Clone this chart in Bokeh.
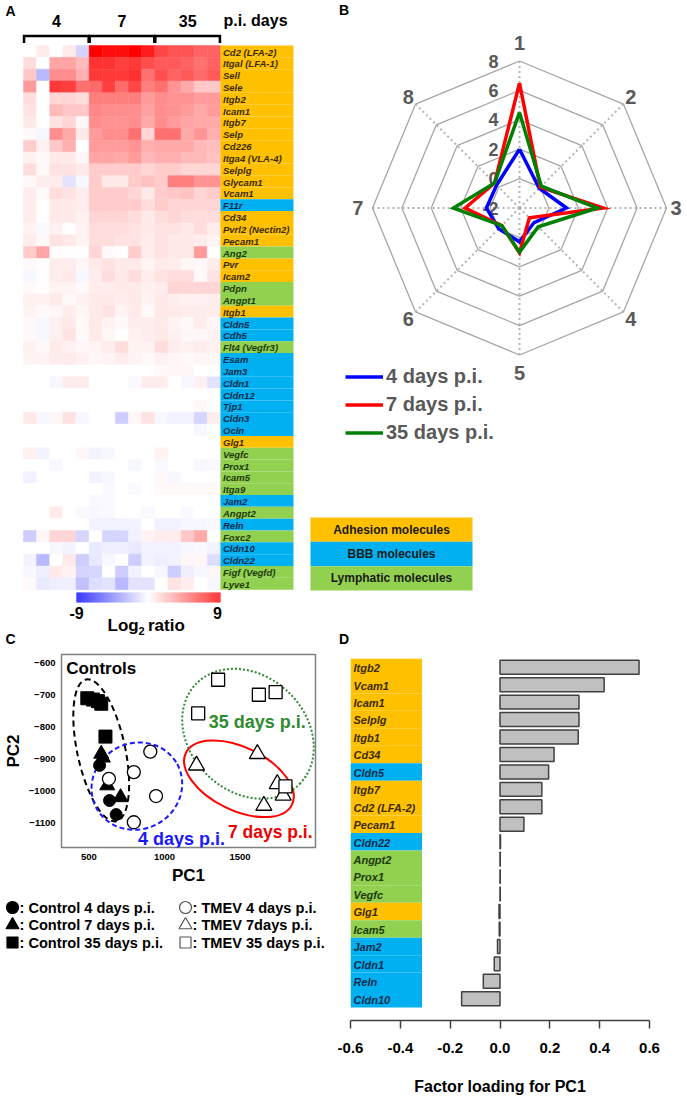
import numpy as np
from bokeh.plotting import figure
from bokeh.layouts import row, column
from bokeh.models import (Range1d, LinearColorMapper, FixedTicker, NumeralTickFormatter,
                          Legend, LegendItem, ColumnDataSource)
from bokeh.core.properties import value
from bokeh.embed import file_html
from bokeh.resources import INLINE

FONT = value("Liberation Sans")
FONT_NAME = "Liberation Sans"

# ------------------------------------------------------------------ DATA
GENES_A = ["Cd2 (LFA-2)", "Itgal (LFA-1)", "Sell", "Sele", "Itgb2", "Icam1", "Itgb7", "Selp",
           "Cd226", "Itga4 (VLA-4)", "Selplg", "Glycam1", "Vcam1", "F11r", "Cd34",
           "Pvrl2 (Nectin2)", "Pecam1", "Ang2", "Pvr", "Icam2", "Pdpn", "Angpt1", "Itgb1",
           "Cldn5", "Cdh5", "Flt4 (Vegfr3)", "Esam", "Jam3", "Cldn1", "Cldn12", "Tjp1", "Cldn3",
           "Ocln", "Glg1", "Vegfc", "Prox1", "Icam5", "Itga9", "Jam2", "Angpt2", "Reln",
           "Foxc2", "Cldn10", "Cldn22", "Figf (Vegfd)", "Lyve1"]
GROUPS_A = list("AAAAAAAAAAAAABAAALAALLABBLBBBBBBBALLLLBLBLBBLL")
DAY_GROUPS = ["4", "7", "35"]

HEAT_4D = [
    [0, 0.7, 0, 0.7, -1.5], [1.2, 0, 3.2, 3.2, 2.4], [2.0, -2.5, 4.0, 4.0, 2.8],
    [3.5, 0, 7.0, 6.8, 5.0], [1.2, 0, 1.5, 1.5, 1.2], [1.0, 0, 2.5, 2.0, 2.0],
    [0.8, 0, 1.0, 1.5, 0.3], [0.2, -0.3, 4.0, 3.0, 0.8], [1.8, 0.5, 2.0, 2.8, 0],
    [0.5, 0.2, 0.8, 0.8, 0.3], [1.2, 0.2, 1.0, 1.0, 0.8], [0.2, 0.6, 0.6, -1.0, -0.3],
    [0.6, 0.2, 1.2, 1.0, 0.6], [0.6, 0.1, 0.8, 0.8, 0.6], [0.6, 0.1, 0.8, 0.8, 0.5],
    [0.4, -0.2, 0.5, 0.1, 0.4], [0.6, 0.2, 1.0, 0.8, 0.4], [1.8, 3.2, 0.1, 0.1, 0.1],
    [0.2, 0.1, 0.6, 0.6, 0.3], [-0.3, 0.1, 0.6, 0.8, -0.3], [0.2, 0.1, 0.4, 0.4, 0.2],
    [0.5, 0.5, 0.8, 0.2, 0.5], [0.4, 0.2, 0.3, 0.6, 0.3], [0.2, -0.3, 0.5, 0.8, 0.2],
    [0.2, -0.3, 0.5, 1.0, 0.2], [0.5, 0.2, 0.8, 0.5, 0.3], [0.4, 0.4, 0.6, 0.8, 0.5],
    [0, 0, 0, 0, 0], [0, 0, -0.3, 0.6, 0.6], [0, 0, 0, 0, 0], [0, 0, 0, 0, 0],
    [0.8, -0.3, 0.3, 1.0, -0.3], [0, 0, 0, 0, 0], [0, 0, 0, 0, 0], [0.5, -0.4, 0, 0, 0.3],
    [0, 0, -0.3, 0, 0], [-0.5, 0, 0, 0, 0], [0, 0, 0, 0, 0], [0, 0, 0, 0, 0],
    [0, 0, 0.8, 0, -0.2], [0, 0, 0, 0, 0], [-1.8, 0.3, 1.5, 1.5, -1.5],
    [0, 0, -0.3, -0.4, 0], [-0.4, -2.5, 0, 0.8, -1.8], [-0.3, -0.6, 0.8, 0.4, -1.5],
    [0.2, -0.8, -0.6, -0.6, -2.2]]
HEAT_7D = [
    [9, 8.5, 8.5, 9, 8], [7.2, 7.2, 6.8, 7.0, 6.3], [7.0, 7.0, 7.0, 7.3, 5.0],
    [5.2, 6.8, 5.2, 6.5, 4.5], [4.5, 4.5, 4.5, 4.5, 3.5], [4.2, 4.0, 4.0, 4.0, 3.3],
    [4.0, 3.8, 3.8, 4.0, 3.0], [3.5, 4.0, 4.0, 5.0, 1.5], [3.5, 3.5, 3.5, 3.8, 2.8],
    [3.2, 3.2, 3.0, 3.5, 2.5], [1.8, 1.8, 1.8, 1.8, 1.5], [1.8, 0.8, 0.8, 1.8, 2.2],
    [1.8, 1.8, 1.8, 1.5, 0.8], [1.8, 1.8, 1.8, 1.8, 1.2], [1.5, 1.5, 1.5, 1.2, 0.8],
    [1.2, 1.2, 1.2, 1.0, 0.8], [1.2, 1.2, 1.0, 1.0, 0.6], [1.5, 0.2, 0.1, 1.8, 0.6],
    [0.8, 1.0, 0.8, 0.8, 0.4], [0.6, 1.2, 0.8, 1.2, 0.6], [0.6, 0.6, 0.8, 0.8, 0.5],
    [0.8, 0.8, 0.6, 0.8, 0.4], [0.8, 1.0, 0.4, 0.8, 0.2], [0.8, 0.4, 0.2, 0.6, 0.6],
    [0.8, 0.3, 0, 0.5, 0.6], [0.4, 0.6, 1.2, 0.4, 0.4], [0.3, 0.4, 0.6, 0.4, 0.2],
    [0, 0, 0, 0, 0.1], [0, 0, 0, -0.2, 0.6], [0, 0, 0, 0, 0], [0, 0, 0, 0, 0],
    [0, 0, -1.8, 0.3, 1.0], [0, 0, 0, 0, 0], [0, 0, 0, 0, 0], [-0.4, -0.3, 0, 0, 0],
    [0, 0, 0, -0.3, 0], [-0.4, -0.3, 0, 0, 0], [0, -0.2, 0, -0.2, 0], [-0.2, -0.2, 0, 0, 0],
    [-0.3, -0.2, 0, 0, -0.2], [-0.5, -0.5, -0.5, -0.4, 0], [0, -1.5, -1.5, -0.5, 0.4],
    [-0.8, -0.6, -0.6, -0.8, -0.4], [-0.8, -0.3, 0, -1.8, -0.4], [-1.5, 0, -1.8, -0.5, 0],
    [-1.2, -1.0, -2.5, -1.0, -1.0]]
HEAT_35D = [
    [6.5, 6.0, 6.0, 5.5, 5.5], [5.8, 5.8, 5.5, 5.0, 5.5], [6.2, 5.5, 5.8, 5.2, 5.8],
    [5.0, 3.8, 3.0, 2.0, 2.0], [4.0, 3.8, 3.8, 3.5, 3.5], [4.0, 3.8, 3.5, 3.0, 3.5],
    [4.0, 3.5, 3.2, 3.0, 3.0], [5.0, 5.0, 3.0, 3.8, 2.8], [3.0, 3.0, 3.0, 2.5, 2.3],
    [2.8, 2.8, 2.5, 2.5, 2.2], [1.8, 1.8, 1.5, 1.5, 1.5], [1.8, 4.5, 4.5, 3.8, 3.8],
    [1.8, 2.0, 2.2, 1.5, 1.8], [1.8, 1.5, 1.5, 1.5, 1.5], [1.2, 1.5, 1.2, 1.2, 1.2],
    [1.0, 1.0, 0.8, 1.2, 0.6], [1.0, 0.8, 0.8, 0.6, 0.4], [1.0, 0.8, 0.8, 3.5, 0.1],
    [0.8, 0.6, 0.3, 0.3, 0.6], [1.0, 1.2, 1.2, 0.2, 1.0], [0.6, 1.5, 1.5, 1.5, 1.5],
    [0.8, 0.6, 0.5, 0.5, 0.6], [0.8, 0.8, 0.6, 0.6, 0.6], [0.8, 0.4, 0.2, 0.6, 0.3],
    [0.8, 0.5, 0.3, 0.3, 0.5], [1.2, 0.6, 0.5, 0.6, 0.5], [0.5, 0.3, 0.2, 0.3, 0.3],
    [0.2, 0.3, 0.3, 0, 0], [0.6, 0, -0.3, 0.5, -1.0], [0, 0, 0, 0, 0], [0, 0, 0, 0.3, 0],
    [-0.3, -0.5, -0.5, -1.5, 0.6], [0, 0, 0, -0.3, 0], [0, 0, 0, 0, 0], [0.4, 0, 0, 0, 0],
    [-0.2, 0, 0, -0.3, -0.2], [0.2, -0.3, 0, 0, 0], [0.2, 0.2, 0.2, 0.2, 0.2], [0, 0, 0, 0, 0],
    [0, 0, -0.2, 0, 0], [-0.5, -0.5, -0.3, -0.3, -0.2], [0.6, 0.6, 2.0, 3.0, 0],
    [-0.4, -0.5, -0.3, -0.2, -0.4], [-0.6, -0.4, 0.3, 0.3, -1.2], [-0.3, -1.8, -0.6, -0.3, 0.3],
    [0, 1.0, 0.6, 0, -0.3]]
COLOR_LOW, COLOR_HIGH = -9, 9

CAT_LABELS = ["Adhesion molecules", "BBB molecules", "Lymphatic molecules"]
CAT_KEYS = ["A", "B", "L"]
CAT_FILL = {"A": "#FFC000", "B": "#00B0F0", "L": "#92D050"}
CAT_TEXT = {"A": "#3a2c00", "B": "#0b2b4b", "L": "#1d3a0b"}

# radar (panel B)
RADAR_AXES = ["1", "2", "3", "4", "5", "6", "7", "8"]
RADAR_RINGS = [0, 2, 4, 6, 8]
RADAR_RING_LABELS = [-2, 0, 2, 4, 6, 8]
RADAR_MIN = -2
R_4D = [2.0, -0.1, 1.2, -0.6, 0.3, 0.0, 0.25, 0.2]
R_7D = [6.5, 0.0, 3.7, -1.05, 1.05, -0.3, 1.7, 0.4]
R_35D = [4.5, 0.1, 3.3, -0.2, 1.0, -0.3, 2.5, 0.4]
RADAR_SERIES = ["4 days p.i.", "7 days p.i.", "35 days p.i."]
RADAR_COLORS = ["#0000FF", "#FF0000", "#008000"]

# PCA (panel C)
CTRL4_X, CTRL4_Y = [570, 636, 680], [-919, -1029, -1073]
CTRL7_X, CTRL7_Y = [581, 592, 621, 709], [-883, -895, -982, -1019]
CTRL35_X, CTRL35_Y = [489, 526, 559, 581, 609], [-709, -713, -718, -726, -829]
TMEV4_X, TMEV4_Y = [906, 797, 632, 944, 797], [-876, -940, -961, -1015, -1097]
TMEV7_X, TMEV7_Y = [1212, 1615, 1747, 1786, 1658], [-919, -883, -977, -1013, -1045]
TMEV35_X, TMEV35_Y = [1355, 1223, 1625, 1736, 1801], [-651, -756, -698, -690, -985]
PC1_TICKS = [500, 1000, 1500]
PC2_TICKS = [-600, -700, -800, -900, -1000, -1100]
ELL_X = [581, 817, 1493, 1553]
ELL_Y = [-872, -984, -961, -820]
ELL_NAMES = ["Controls", "4 days p.i.", "7 days p.i.", "35 days p.i."]
LEG_C = [": Control 4 days p.i.", ": Control 7 days p.i.", ": Control 35 days p.i.",
         ": TMEV 4 days p.i.", ": TMEV 7days p.i.", ": TMEV 35 days p.i."]

# loadings (panel D)
GENES_D = ["Itgb2", "Vcam1", "Icam1", "Selplg", "Itgb1", "Cd34", "Cldn5", "Itgb7",
           "Cd2 (LFA-2)", "Pecam1", "Cldn22", "Angpt2", "Prox1", "Vegfc", "Glg1", "Icam5",
           "Jam2", "Cldn1", "Reln", "Cldn10"]
GROUPS_D = list("AAAAAABAAABLLLALBBBB")
LOAD_D = [0.558, 0.418, 0.317, 0.317, 0.314, 0.217, 0.195, 0.168, 0.168, 0.096, 0.002,
          0.001, 0.001, 0.001, -0.004, -0.003, -0.010, -0.023, -0.067, -0.154]
LOAD_TICKS = [-0.6, -0.4, -0.2, 0.0, 0.2, 0.4, 0.6]


# ------------------------------------------------------------------ helpers
def blank_fig(w, h, xr, yr):
    p = figure(width=w, height=h, x_range=Range1d(*xr), y_range=Range1d(*yr),
               x_axis_location=None, y_axis_location=None, toolbar_location=None,
               output_backend="svg", min_border=0)
    p.outline_line_color = None
    p.grid.visible = False
    p.frame_align = False
    return p


def mix(t):
    if t >= 0:
        c = int(round(255 * (1 - t)))
        return "#%02x%02x%02x" % (255, c, c)
    c = int(round(255 * (1 + t)))
    return "#%02x%02x%02x" % (c, c, 255)


PALETTE = [mix(t) for t in np.linspace(-1, 1, 255)]
mapper = LinearColorMapper(palette=PALETTE, low=COLOR_LOW, high=COLOR_HIGH)

# ------------------------------------------------------------------ PANEL A
PXC, PXR = 13.13, 11.83
A_W, A_H = 300, 650
A_X0, A_Y0 = 23, 45


def ax(px):
    return (px - A_X0) / PXC


def ay(py):
    return (py - A_Y0) / PXR


pA = blank_fig(A_W, A_H, (ax(0), ax(A_W)), (ay(A_H), ay(0)))

hx, hy, hv = [], [], []
for gi, block in enumerate([HEAT_4D, HEAT_7D, HEAT_35D]):
    for r, rv in enumerate(block):
        for c, v in enumerate(rv):
            hx.append(gi * 5 + c + 0.5)
            hy.append(r + 0.5)
            hv.append(v)
src = ColumnDataSource(dict(x=hx, y=hy, v=hv))
pA.rect(x="x", y="y", width=1, height=1, source=src,
        fill_color={"field": "v", "transform": mapper},
        line_color={"field": "v", "transform": mapper}, line_width=0.5)

n = len(GENES_A)
rows = np.arange(n)
lab_right = ax(293)
pA.quad(left=[15] * n, right=[lab_right] * n, top=list(rows), bottom=list(rows + 1),
        fill_color=[CAT_FILL[g] for g in GROUPS_A], line_color=None)
pA.text(x=[ax(222.5)] * n, y=list(rows + 0.55), text=GENES_A, text_font=FONT,
        text_font_size="9.5px", text_font_style="bold italic", text_baseline="middle",
        text_color=[CAT_TEXT[g] for g in GROUPS_A])

# brackets and day labels
bxs, bys = [], []
for g in range(3):
    l, r = g * 5 + 0.04, g * 5 + 4.96
    bxs.append([l, l, r, r])
    bys.append([ay(42.5), ay(35.5), ay(35.5), ay(42.5)])
pA.multi_line(bxs, bys, line_color="black", line_width=2.5, line_join="miter")
pA.text(x=[g * 5 + 2.5 for g in range(3)], y=[ay(20)] * 3, text=DAY_GROUPS, text_font=FONT,
        text_font_size="16px", text_font_style="bold", text_align="center",
        text_baseline="middle", text_color="black")
pA.text(x=[ax(223)], y=[ay(20)], text=["p.i. days"], text_font=FONT, text_font_size="16px",
        text_font_style="bold", text_baseline="middle", text_color="black")

# colour bar
NB = 144
edges = np.linspace(ax(76), ax(220), NB + 1)
cb_vals = np.linspace(COLOR_LOW, COLOR_HIGH, NB)
pA.rect(x=list((edges[:-1] + edges[1:]) / 2), y=[(ay(592) + ay(602)) / 2] * NB,
        width=(edges[1] - edges[0]) * 1.05, height=ay(602) - ay(592),
        fill_color=[mapper.palette[int(round((v - COLOR_LOW) / (COLOR_HIGH - COLOR_LOW) * 254))] for v in cb_vals],
        line_color=None)
pA.text(x=[ax(76), ax(217)], y=[ay(612)] * 2, text=[str(COLOR_LOW), str(COLOR_HIGH)],
        text_font=FONT, text_font_size="16px", text_font_style="bold", text_align="center",
        text_baseline="middle", text_color="black")
pA.text(x=[ax(107)], y=[ay(625)], text=["Log"], text_font=FONT, text_font_size="17px",
        text_font_style="bold", text_baseline="middle", text_color="black")
pA.text(x=[ax(138)], y=[ay(630)], text=["2"], text_font=FONT, text_font_size="11px",
        text_font_style="bold", text_baseline="middle", text_color="black")
pA.text(x=[ax(147.5)], y=[ay(625)], text=["ratio"], text_font=FONT, text_font_size="17px",
        text_font_style="bold", text_baseline="middle", text_color="black")
pA.text(x=[ax(10), ax(10)], y=[ay(10), ay(638)], text=["A", "C"], text_font=FONT,
        text_font_size="14px", text_font_style="bold", text_align="center",
        text_baseline="middle", text_color="black")

# ------------------------------------------------------------------ PANEL B
B_W, B_H = 387, 650
B_CX, B_CY, PXU = 519, 207.5, 14.7


def bx(px):
    return (px - B_CX) / PXU


def by(py):
    return (B_CY - py) / PXU


pB = blank_fig(B_W, B_H, (bx(300), bx(300 + B_W)), (by(B_H), by(0)))
ANG = np.deg2rad(90 - 45 * np.arange(len(RADAR_AXES)))
COS, SIN = np.cos(ANG), np.sin(ANG)
R_OUT = RADAR_RINGS[-1] - RADAR_MIN

ring_xs, ring_ys = [], []
for rv in RADAR_RINGS:
    r = rv - RADAR_MIN
    ring_xs.append(list(r * COS) + [r * COS[0]])
    ring_ys.append(list(r * SIN) + [r * SIN[0]])
pB.multi_line(ring_xs, ring_ys, line_color="#a6a6a6", line_width=1.3)
pB.multi_line([[0, R_OUT * c] for c in COS], [[0, R_OUT * s] for s in SIN],
              line_color="#b3b3b3", line_width=2, line_dash="2 3")

rad_lab = [11.2, 10.7, 10.65, 10.7, 11.2, 10.7, 11.0, 10.7]
pB.text(x=list(np.array(rad_lab) * COS), y=list(np.array(rad_lab) * SIN), text=RADAR_AXES,
        text_font=FONT, text_font_size="20px", text_font_style="bold", text_align="center",
        text_baseline="middle", text_color="#595959")
pB.text(x=[bx(498)] * len(RADAR_RING_LABELS), y=[v - RADAR_MIN for v in RADAR_RING_LABELS],
        text=[str(v) for v in RADAR_RING_LABELS], text_font=FONT, text_font_size="18px",
        text_font_style="bold", text_align="right", text_baseline="middle", text_color="#595959")

rends = []
for vals, col in zip([R_4D, R_7D, R_35D], RADAR_COLORS):
    r = np.array(vals) - RADAR_MIN
    xs = list(r * COS) + [r[0] * COS[0]]
    ys = list(r * SIN) + [r[0] * SIN[0]]
    rends.append(pB.line(xs, ys, line_color=col, line_width=3.5, line_join="miter"))

leg = Legend(items=[LegendItem(label=l, renderers=[rr]) for l, rr in zip(RADAR_SERIES, rends)],
             location=(45, 206), orientation="vertical", glyph_width=38, glyph_height=23,
             label_height=23, label_standoff=3, spacing=5, padding=0, margin=0,
             border_line_color=None, background_fill_alpha=0,
             label_text_font=FONT_NAME, label_text_font_size="20px",
             label_text_font_style="bold", label_text_color="#595959")
pB.add_layout(leg)

cat_h = 24.33
for i, (lab, key) in enumerate(zip(CAT_LABELS, CAT_KEYS)):
    t, b = 517 + i * cat_h, 517 + (i + 1) * cat_h
    pB.quad(left=[bx(310)], right=[bx(472)], top=[by(t)], bottom=[by(b)],
            fill_color=CAT_FILL[key], line_color=None)
    pB.text(x=[bx(391)], y=[by((t + b) / 2)], text=[lab], text_font=FONT,
            text_font_size="12px", text_font_style="bold", text_align="center",
            text_baseline="middle", text_color="#1a1a1a")
pB.text(x=[bx(343.5), bx(343.5)], y=[by(9), by(638)], text=["B", "D"], text_font=FONT,
        text_font_size="14px", text_font_style="bold", text_align="center",
        text_baseline="middle", text_color="black")

# ------------------------------------------------------------------ PANEL C
pC = figure(width=335, height=240, x_range=Range1d(318, 2000), y_range=Range1d(-1176, -572),
            toolbar_location=None, output_backend="svg",
            min_border_left=60, min_border_right=20, min_border_top=4, min_border_bottom=43)
pC.frame_align = False
pC.grid.visible = False
pC.outline_line_color = "#808080"
pC.outline_line_width = 1.5
for axis in (pC.xaxis, pC.yaxis):
    axis.axis_line_color = None
    axis.major_tick_in = 0
    axis.major_tick_out = 0
    axis.minor_tick_in = 0
    axis.minor_tick_out = 0
    axis.major_label_text_font = FONT_NAME
    axis.major_label_text_font_size = "9.5px"
    axis.major_label_text_font_style = "bold"
    axis.major_label_text_color = "black"
    axis.major_label_standoff = 6
    axis.axis_label_text_font = FONT_NAME
    axis.axis_label_text_font_size = "17px"
    axis.axis_label_text_font_style = "bold"
    axis.axis_label_text_color = "black"
    axis.axis_label_standoff = 3
pC.xaxis.ticker = FixedTicker(ticks=PC1_TICKS)
pC.yaxis.ticker = FixedTicker(ticks=PC2_TICKS)
pC.xaxis.axis_label = "PC1"
pC.yaxis.axis_label = "PC2"

ell_w = [48, 92, 118, 144]
ell_h = [145, 86, 63, 116]
ell_a = [0.21, 0.5, -0.452, -0.756]
ell_col = ["black", "#1a1aff", "#ff0000", "#2e8b2e"]
ell_dash = ["6 4", "5 3", "solid", "2 2"]
for i in range(len(ELL_X)):
    pC.ellipse(x=[ELL_X[i]], y=[ELL_Y[i]], width=[ell_w[i]], height=[ell_h[i]],
               angle=[ell_a[i]], width_units="screen", height_units="screen",
               fill_color=None, line_color=ell_col[i], line_width=2,
               line_dash=ell_dash[i])

pC.scatter(CTRL4_X, CTRL4_Y, marker="circle", size=12, fill_color="black", line_color="black")
pC.scatter(CTRL7_X, CTRL7_Y, marker="triangle", size=15, fill_color="black", line_color="black")
pC.scatter(CTRL35_X, CTRL35_Y, marker="square", size=13, fill_color="black", line_color="black")
pC.scatter(TMEV4_X, TMEV4_Y, marker="circle", size=13, fill_color="white", line_color="black", line_width=1.3)
pC.scatter(TMEV7_X, TMEV7_Y, marker="triangle", size=16, fill_color="white", line_color="black", line_width=1.3)
pC.scatter(TMEV35_X, TMEV35_Y, marker="square", size=13, fill_color="white", line_color="black", line_width=1.3)

pC.text(x=[350], y=[-617], text=[ELL_NAMES[0]], text_font=FONT, text_font_size="17px",
        text_font_style="bold", text_baseline="middle", text_color="black")
pC.text(x=[1293], y=[-784], text=[ELL_NAMES[3]], text_font=FONT, text_font_size="18px",
        text_font_style="bold", text_baseline="middle", text_color="#2e8b2e")
pC.text(x=[825], y=[-1149], text=[ELL_NAMES[1]], text_font=FONT, text_font_size="18px",
        text_font_style="bold", text_baseline="middle", text_color="#1a1aff")
pC.text(x=[1420], y=[-1128], text=[ELL_NAMES[2]], text_font=FONT, text_font_size="17.5px",
        text_font_style="bold", text_baseline="middle", text_color="#ee0000")

# legend for panel C
pCL = blank_fig(335, 208, (0, 335), (1098, 890))
leg_rows = [907, 924.5, 942]
mk = ["circle", "triangle", "square"]
mk_size = [12, 13, 11]
for ci, (fill, xm) in enumerate([("black", 12), ("white", 185)]):
    for ri in range(3):
        pCL.scatter([xm], [leg_rows[ri]], marker=mk[ri], size=mk_size[ri], fill_color=fill,
                    line_color="black" if fill == "black" else "#555555", line_width=1.2)
    pCL.text(x=[xm + 7] * 3, y=leg_rows, text=LEG_C[ci * 3:ci * 3 + 3], text_font=FONT,
             text_font_size="14.6px", text_font_style="bold", text_baseline="middle",
             text_color="black")

# ------------------------------------------------------------------ PANEL D
nd = len(GENES_D)
pD = figure(width=352, height=448, x_range=Range1d(-0.6, 0.6), y_range=Range1d(nd + 0.745, 0),
            y_axis_location=None, toolbar_location=None, output_backend="svg",
            min_border_left=15, min_border_right=38, min_border_top=8, min_border_bottom=78)
pD.frame_align = False
pD.grid.visible = False
pD.outline_line_color = None
xa = pD.xaxis
xa.ticker = FixedTicker(ticks=LOAD_TICKS)
xa.formatter = NumeralTickFormatter(format="0.0")
xa.axis_line_width = 1.5
xa.axis_line_color = "#404040"
xa.major_tick_line_color = "#404040"
xa.major_tick_line_width = 1.5
xa.major_tick_out = 8
xa.major_tick_in = 0
xa.minor_tick_line_color = None
xa.major_label_text_font = FONT_NAME
xa.major_label_text_font_size = "15px"
xa.major_label_text_font_style = "bold"
xa.major_label_text_color = "black"
xa.major_label_standoff = 14
xa.axis_label = "Factor loading for PC1"
xa.axis_label_text_font = FONT_NAME
xa.axis_label_text_font_size = "16px"
xa.axis_label_text_font_style = "bold"
xa.axis_label_text_color = "black"
xa.axis_label_standoff = 22

drows = np.arange(nd)
pD.quad(left=[-0.6] * nd, right=[-0.313] * nd, top=list(drows), bottom=list(drows + 1),
        fill_color=[CAT_FILL[g] for g in GROUPS_D], line_color=None)
pD.text(x=[-0.588] * nd, y=list(drows + 0.55), text=GENES_D, text_font=FONT,
        text_font_size="11px", text_font_style="bold italic", text_baseline="middle",
        text_color=[CAT_TEXT[g] for g in GROUPS_D])
pD.hbar(y=list(drows + 0.5), left=0, right=LOAD_D, height=0.8, fill_color="#c0c0c0",
        line_color="#404040", line_width=1.5)

layout = column(row(pA, pB), row(column(pC, pCL), pD))
open("out.html", "w").write(file_html(layout, INLINE, title="Figure"))
